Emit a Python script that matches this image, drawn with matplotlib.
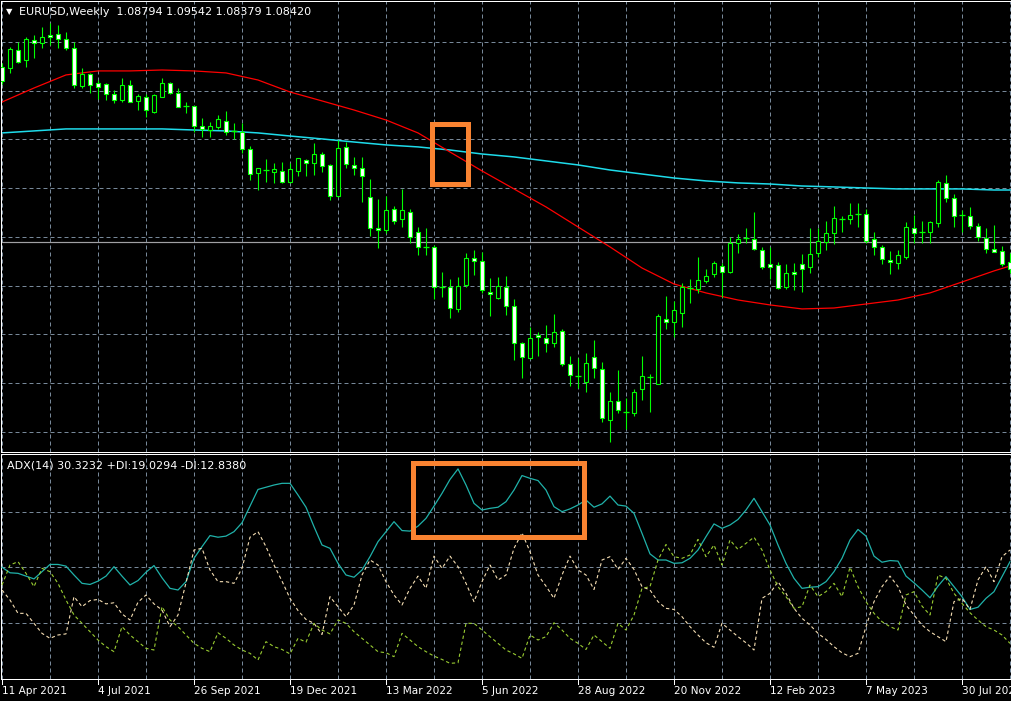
import numpy as np
import matplotlib
matplotlib.use("Agg")
import matplotlib.pyplot as plt
from matplotlib.patches import Rectangle
import matplotlib.transforms as mtransforms

# ---------------- data ----------------
symbol_header = "EURUSD,Weekly  1.08794 1.09542 1.08379 1.08420"
adx_header = "ADX(14) 30.3232 +DI:19.0294 -DI:12.8380"
last_price = 1.0842

tick_labels = ["11 Apr 2021", "4 Jul 2021", "26 Sep 2021", "19 Dec 2021",
               "13 Mar 2022", "5 Jun 2022", "28 Aug 2022", "20 Nov 2022",
               "12 Feb 2023", "7 May 2023", "30 Jul 2023"]

opens = [1.1981, 1.1974, 1.2091, 1.2026, 1.2156, 1.2137, 1.2189, 1.2195, 1.2163, 1.2104,
         1.1857, 1.1935, 1.1877, 1.1870, 1.1805, 1.1766, 1.1864, 1.1760, 1.1786, 1.1688,
         1.1786, 1.1877, 1.1812, 1.1727, 1.1727, 1.1597, 1.1571, 1.1591, 1.1630, 1.1565,
         1.1558, 1.1448, 1.1292, 1.1311, 1.1298, 1.1305, 1.1233, 1.1305, 1.1376, 1.1357,
         1.1415, 1.1344, 1.1142, 1.1461, 1.1344, 1.1324, 1.1136, 1.0934, 1.0921, 1.1058,
         1.0993, 1.1038, 1.0908, 1.0811, 1.0811, 1.0551, 1.0551, 1.0408, 1.0564, 1.0739,
         1.0720, 1.0518, 1.0479, 1.0551, 1.0427, 1.0187, 1.0089, 1.0239, 1.0219, 1.0187,
         1.0265, 1.0050, 0.9972, 0.9933, 1.0096, 1.0018, 0.9686, 0.9810, 0.9738, 0.9732,
         0.9888, 0.9966, 0.9920, 1.0343, 1.0323, 1.0382, 1.0544, 1.0538, 1.0590, 1.0635,
         1.0687, 1.0648, 1.0837, 1.0869, 1.0863, 1.0791, 1.0700, 1.0694, 1.0551, 1.0648,
         1.0700, 1.0681, 1.0772, 1.0843, 1.0902, 1.0993, 1.0993, 1.1025, 1.1025, 1.0863,
         1.0811, 1.0726, 1.0707, 1.0746, 1.0934, 1.0908, 1.0908, 1.0967, 1.1227, 1.1129,
         1.1019, 1.1012, 1.0947, 1.0869, 1.0798, 1.0785, 1.0713]

highs = [1.2007, 1.2111, 1.2143, 1.2176, 1.2189, 1.2241, 1.2267, 1.2254, 1.2208, 1.2143,
         1.1974, 1.1942, 1.1896, 1.1877, 1.1831, 1.1909, 1.1896, 1.1805, 1.1805, 1.1805,
         1.1909, 1.1883, 1.1844, 1.1753, 1.1727, 1.1649, 1.1623, 1.1669, 1.1695, 1.1617,
         1.1617, 1.1467, 1.1324, 1.1383, 1.1357, 1.1363, 1.1357, 1.1389, 1.1383, 1.1487,
         1.1428, 1.1350, 1.1506, 1.1493, 1.1396, 1.1396, 1.1253, 1.1123, 1.1142, 1.1077,
         1.1188, 1.1058, 1.0941, 1.0934, 1.0824, 1.0648, 1.0603, 1.0616, 1.0772, 1.0791,
         1.0778, 1.0609, 1.0616, 1.0622, 1.0473, 1.0193, 1.0291, 1.0258, 1.0304, 1.0375,
         1.0278, 1.0102, 1.0089, 1.0122, 1.0206, 1.0063, 0.9868, 1.0011, 0.9829, 0.9888,
         1.0102, 0.9985, 1.0375, 1.0492, 1.0460, 1.0577, 1.0603, 1.0746, 1.0668, 1.0720,
         1.0707, 1.0876, 1.0895, 1.0934, 1.1038, 1.0811, 1.0811, 1.0713, 1.0700, 1.0707,
         1.0765, 1.0934, 1.0934, 1.0980, 1.1077, 1.1012, 1.1097, 1.1097, 1.1058, 1.0908,
         1.0824, 1.0785, 1.0791, 1.0973, 1.1019, 1.0980, 1.0980, 1.1246, 1.1279, 1.1155,
         1.1051, 1.1071, 1.0967, 1.0934, 1.0954, 1.0817, 1.0772]

lows = [1.1870, 1.1942, 1.2007, 1.1981, 1.2039, 1.2104, 1.2124, 1.2104, 1.2091, 1.1844,
        1.1844, 1.1812, 1.1773, 1.1766, 1.1747, 1.1753, 1.1753, 1.1701, 1.1656, 1.1682,
        1.1786, 1.1805, 1.1721, 1.1682, 1.1558, 1.1526, 1.1526, 1.1578, 1.1539, 1.1513,
        1.1422, 1.1246, 1.1181, 1.1233, 1.1227, 1.1227, 1.1227, 1.1272, 1.1272, 1.1279,
        1.1298, 1.1116, 1.1136, 1.1324, 1.1279, 1.1103, 1.0882, 1.0804, 1.0902, 1.0960,
        1.0941, 1.0837, 1.0759, 1.0759, 1.0473, 1.0486, 1.0349, 1.0388, 1.0551, 1.0629,
        1.0512, 1.0362, 1.0473, 1.0369, 1.0076, 0.9959, 1.0083, 1.0102, 1.0128, 1.0161,
        1.0037, 0.9907, 0.9894, 0.9868, 0.9959, 0.9673, 0.9543, 0.9732, 0.9628, 0.9712,
        0.9816, 0.9738, 0.9920, 1.0278, 1.0226, 1.0291, 1.0447, 1.0512, 1.0577, 1.0616,
        1.0486, 1.0642, 1.0772, 1.0837, 1.0791, 1.0668, 1.0603, 1.0538, 1.0538, 1.0531,
        1.0518, 1.0642, 1.0746, 1.0791, 1.0830, 1.0908, 1.0960, 1.0941, 1.0837, 1.0759,
        1.0700, 1.0635, 1.0668, 1.0733, 1.0837, 1.0837, 1.0837, 1.0941, 1.1103, 1.0941,
        1.0908, 1.0928, 1.0850, 1.0772, 1.0778, 1.0687, 1.0642]

closes = [1.1890, 1.2098, 1.2013, 1.2163, 1.2137, 1.2176, 1.2176, 1.2163, 1.2104, 1.1864,
          1.1935, 1.1864, 1.1851, 1.1805, 1.1766, 1.1864, 1.1753, 1.1792, 1.1701, 1.1799,
          1.1877, 1.1812, 1.1721, 1.1727, 1.1597, 1.1578, 1.1597, 1.1643, 1.1558, 1.1565,
          1.1448, 1.1285, 1.1324, 1.1311, 1.1318, 1.1233, 1.1318, 1.1389, 1.1357, 1.1415,
          1.1337, 1.1142, 1.1454, 1.1350, 1.1324, 1.1272, 1.0934, 1.0921, 1.1051, 1.0980,
          1.1051, 1.0876, 1.0811, 1.0811, 1.0551, 1.0551, 1.0414, 1.0557, 1.0739, 1.0720,
          1.0531, 1.0505, 1.0557, 1.0427, 1.0187, 1.0096, 1.0219, 1.0226, 1.0187, 1.0258,
          1.0050, 0.9979, 0.9972, 1.0057, 1.0024, 0.9699, 0.9810, 0.9751, 0.9738, 0.9868,
          0.9972, 0.9966, 1.0362, 1.0323, 1.0401, 1.0551, 1.0544, 1.0596, 1.0622, 1.0707,
          1.0648, 1.0837, 1.0863, 1.0869, 1.0798, 1.0681, 1.0681, 1.0544, 1.0642, 1.0635,
          1.0668, 1.0765, 1.0850, 1.0902, 1.0999, 1.0993, 1.1019, 1.1025, 1.0850, 1.0811,
          1.0733, 1.0713, 1.0759, 1.0941, 1.0902, 1.0908, 1.0973, 1.1233, 1.1129, 1.1012,
          1.1019, 1.0947, 1.0876, 1.0798, 1.0778, 1.0700, 1.0668]

ma_bars = [0, 4, 8, 12, 16, 20, 24, 28, 32, 36, 40, 44, 48, 52, 56, 60, 64, 68, 72,
           76, 80, 84, 88, 92, 96, 100, 104, 108, 112, 116, 120, 124, 126]
ma_red = [1.1753, 1.1844, 1.1929, 1.1955, 1.1955, 1.1961, 1.1955, 1.1942, 1.1896, 1.1818,
          1.1760, 1.1701, 1.1636, 1.1552, 1.1428, 1.1305, 1.1188, 1.1071, 1.0941, 1.0811,
          1.0674, 1.0570, 1.0512, 1.0466, 1.0434, 1.0408, 1.0414, 1.0440, 1.0466, 1.0512,
          1.0583, 1.0655, 1.0687]
ma_cyan = [1.1552, 1.1565, 1.1578, 1.1578, 1.1578, 1.1578, 1.1571, 1.1565, 1.1552, 1.1532,
           1.1513, 1.1493, 1.1474, 1.1461, 1.1441, 1.1415, 1.1396, 1.1370, 1.1344, 1.1311,
           1.1285, 1.1259, 1.1240, 1.1227, 1.1220, 1.1207, 1.1201, 1.1194, 1.1188, 1.1188,
           1.1188, 1.1181, 1.1181]

adx = [30.0, 29.0, 28.9, 28.4, 27.9, 29.2, 30.5, 30.5, 30.2, 28.6,
       27.1, 26.9, 27.5, 28.4, 30.1, 28.4, 26.8, 27.6, 29.1, 30.3,
       28.1, 26.2, 25.9, 27.4, 31.6, 33.7, 35.7, 35.4, 35.6, 36.4,
       38.0, 41.0, 44.0, 44.4, 44.8, 45.1, 45.1, 43.0, 40.8, 37.3,
       34.0, 33.4, 30.7, 28.6, 28.2, 29.5, 31.9, 34.6, 36.4, 38.2,
       36.6, 36.5, 37.4, 38.8, 41.0, 43.3, 45.8, 47.7, 44.8, 41.5,
       40.3, 40.6, 40.8, 41.8, 43.9, 46.5, 46.0, 45.6, 43.9, 40.9,
       40.0, 40.5, 41.2, 42.1, 40.8, 41.4, 42.8, 41.2, 41.0, 39.7,
       36.1, 32.4, 31.3, 31.3, 30.7, 30.8, 31.6, 33.1, 35.5, 37.8,
       37.0, 37.6, 38.6, 40.3, 42.4, 40.0, 37.6, 34.0, 30.7, 28.0,
       26.2, 26.4, 26.5, 27.4, 29.2, 31.6, 34.9, 36.8, 35.6, 32.0,
       30.9, 31.2, 31.1, 28.4, 27.2, 25.9, 24.5, 26.6, 28.3, 26.5,
       24.7, 22.4, 22.8, 24.4, 25.6, 28.3, 31.0]

minus_di = [25.9, 24.1, 21.7, 21.7, 19.9, 18.1, 17.2, 17.8, 18.0, 24.7,
            22.9, 24.0, 24.2, 23.4, 23.6, 21.6, 20.5, 23.7, 25.0, 23.4,
            22.3, 19.3, 21.4, 27.2, 33.1, 33.4, 29.5, 27.4, 27.4, 27.1,
            29.8, 35.4, 36.4, 33.7, 30.4, 27.5, 24.4, 22.2, 20.6, 19.9,
            17.9, 24.7, 22.9, 21.1, 23.2, 28.6, 31.3, 30.4, 27.4, 25.0,
            23.2, 26.2, 28.4, 26.2, 32.0, 29.8, 32.0, 30.1, 27.1, 23.8,
            27.4, 30.4, 27.7, 28.6, 33.4, 36.2, 32.8, 28.6, 26.6, 24.4,
            28.6, 32.0, 29.5, 28.6, 26.0, 31.3, 31.9, 29.6, 31.6, 29.6,
            26.5, 25.9, 23.8, 22.6, 22.4, 21.1, 19.3, 17.8, 16.4, 15.6,
            19.9, 18.7, 17.5, 16.4, 15.1, 24.4, 25.3, 27.4, 25.3, 22.6,
            20.8, 19.6, 18.1, 17.0, 15.7, 14.6, 13.9, 14.5, 19.3, 23.8,
            26.5, 28.4, 26.5, 23.2, 21.4, 19.6, 18.4, 17.5, 16.6, 23.8,
            24.4, 22.4, 27.7, 30.1, 27.4, 31.9, 33.1]

plus_di = [26.8, 30.4, 31.0, 28.9, 26.5, 29.8, 29.2, 27.1, 24.1, 21.4,
           19.9, 18.4, 16.9, 15.7, 14.8, 19.3, 17.8, 16.6, 15.4, 15.1,
           22.9, 20.5, 19.3, 17.8, 16.3, 15.4, 14.8, 18.2, 17.2, 16.0,
           15.1, 14.5, 13.3, 16.6, 15.7, 15.2, 14.4, 17.2, 16.5, 19.9,
           18.7, 18.0, 20.5, 19.9, 18.4, 17.2, 16.0, 14.8, 14.6, 13.9,
           18.1, 16.9, 15.7, 14.8, 14.0, 13.4, 12.7, 12.8, 19.9, 19.9,
           18.7, 17.5, 16.3, 15.1, 14.4, 13.6, 17.8, 16.9, 17.5, 20.0,
           18.7, 17.2, 16.3, 15.2, 17.8, 16.6, 15.4, 19.9, 18.7, 21.4,
           26.2, 26.5, 31.3, 34.1, 31.9, 31.6, 32.2, 35.0, 31.9, 34.0,
           30.4, 34.9, 33.2, 34.3, 35.4, 33.1, 29.5, 26.5, 24.7, 22.6,
           22.9, 26.8, 24.7, 25.6, 27.1, 24.7, 30.0, 26.5, 23.8, 21.7,
           20.2, 19.3, 18.7, 25.0, 25.6, 23.0, 21.4, 28.6, 28.0, 25.3,
           23.5, 21.8, 20.5, 19.3, 18.7, 17.8, 16.3]

# highlighted areas (bar index / value ranges)
box_price = (53.8, 58.25, 1.1223, 1.1613)
box_adx = (51.4, 72.7, 35.5, 48.7)

# ---------------- styling ----------------
W, H = 1011, 701
BG = "black"
GRID = "#778899"
GREEN = "#00FF00"
ORANGE = "#F98331"
PX = 0.72  # one pixel in points

fig = plt.figure(figsize=(W / 100, H / 100), dpi=100, facecolor=BG)


def fbox(x0, y0, x1, y1):
    return [x0 / W, 1 - y1 / H, (x1 - x0) / W, (y1 - y0) / H]


ax1 = fig.add_axes(fbox(1, 1, 1011, 452), facecolor=BG)
ax2 = fig.add_axes(fbox(1, 454, 1011, 679), facecolor=BG)

n = len(opens)
xs = np.arange(n)
xlim = (-0.125, 126.125)

for ax in (ax1, ax2):
    ax.set_xlim(*xlim)
    for side in ("top", "bottom", "left"):
        ax.spines[side].set_color("white")
        ax.spines[side].set_linewidth(PX)
    ax.spines["right"].set_visible(False)
    ax.tick_params(left=False, labelleft=False, right=False, top=False,
                   bottom=False, labelbottom=False)
    for gx in range(0, n, 6):
        ax.axvline(gx, color=GRID, lw=PX, linestyle=(0, (4, 3)), zorder=1)

ax1.set_ylim(0.9478, 1.24095)
ax2.set_ylim(9.88, 50.38)

for gy in 0.9608 + 0.0317 * np.arange(9):
    ax1.axhline(gy, color=GRID, lw=PX, linestyle=(0, (4, 3)), zorder=1)
for gy in (20, 30, 40):
    ax2.axhline(gy, color=GRID, lw=PX, linestyle=(0, (4, 3)), zorder=1)

# current price line
ax1.axhline(last_price, color="#a0a0a4", lw=PX * 1.2, zorder=1.5)

# moving averages
ax1.plot(ma_bars, ma_cyan, color="#1EDCEB", lw=1.1, zorder=2)
ax1.plot(ma_bars, ma_red, color="#FF0000", lw=0.9, zorder=2)

# candles
o = np.array(opens); h = np.array(highs); l = np.array(lows); c = np.array(closes)
ax1.vlines(xs, l, h, color=GREEN, lw=PX * 1.1, zorder=3)
doji = o == c
body_mask = ~doji
bottoms = np.minimum(o, c)
heights = np.abs(c - o)
faces = np.where(c < o, "white", "black")
ax1.bar(xs[body_mask], heights[body_mask], bottom=bottoms[body_mask], width=0.58,
        color=faces[body_mask], edgecolor=GREEN, linewidth=PX * 1.1, zorder=4)
ax1.hlines(o[doji], xs[doji] - 0.32, xs[doji] + 0.32, color=GREEN, lw=PX * 1.3, zorder=4)

# ADX panel
ax2.plot(xs, adx, color="#20B2AA", lw=0.9, zorder=3)
ax2.plot(xs, minus_di, color="#F5DEB3", lw=0.8, linestyle=(0, (3, 2.5)), zorder=3)
ax2.plot(xs, plus_di, color="#9ACD32", lw=0.8, linestyle=(0, (3, 2.5)), zorder=3)

# highlight rectangles
for ax, (x0, x1, y0, y1) in ((ax1, box_price), (ax2, box_adx)):
    ax.add_patch(Rectangle((x0, y0), x1 - x0, y1 - y0, fill=False, edgecolor=ORANGE,
                           linewidth=5 * PX, joinstyle="miter", zorder=6, clip_on=False))

# headers
fig.text(6 / W, 1 - 12 / H, "\u25BC", color="white", fontsize=6, va="center", ha="left",
         family="DejaVu Sans")
fig.text(19 / W, 1 - 12 / H, symbol_header, color="white", fontsize=8, va="center",
         ha="left", family="DejaVu Sans")
fig.text(7 / W, 1 - 465 / H, adx_header, color="white", fontsize=8, va="center",
         ha="left", family="DejaVu Sans")

# bottom time axis
trans = mtransforms.blended_transform_factory(ax2.transData, ax2.transAxes)
for k, lab in enumerate(tick_labels):
    bx = 12 * k
    ax2.plot([bx, bx], [0, -5 / 225], color="white", lw=PX, transform=trans,
             clip_on=False, zorder=5)
    ax2.text(bx - 0.05, -12.5 / 225, lab, color="white", fontsize=7.6, ha="left",
             va="center", transform=trans, family="DejaVu Sans", clip_on=False)

fig.savefig("out.png", dpi=100, facecolor=BG)
